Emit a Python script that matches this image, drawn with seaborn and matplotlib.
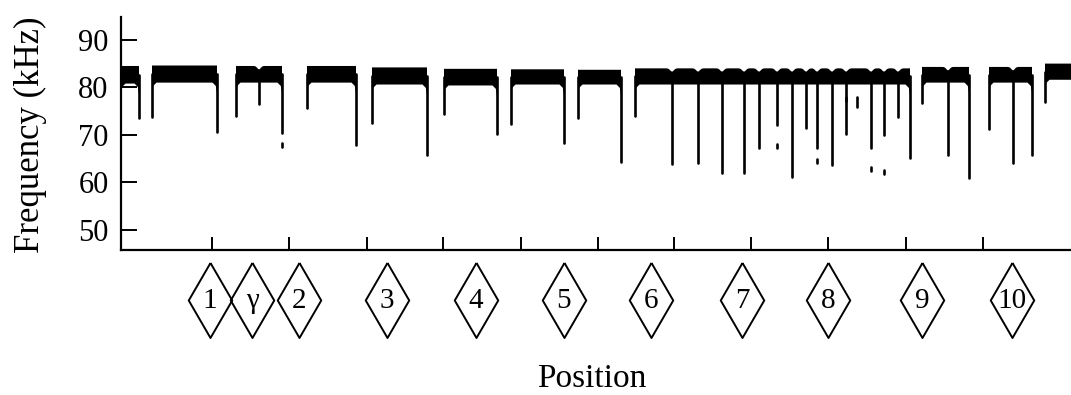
import numpy as np
import pandas as pd
import matplotlib
matplotlib.use("Agg")
import matplotlib.pyplot as plt
import seaborn as sns

# ---- data (position in arbitrary units along the flight path, frequency in kHz) ----
band_start = [0, 31, 115, 186, 251, 323, 390, 457, 514, 801, 868, 924]
band_end = [18, 96, 161, 235, 306, 376, 443, 500, 789, 848, 911, 960]
band_top = [84.5, 84.6, 84.5, 84.5, 84.2, 83.9, 83.8, 83.7, 84.0, 84.3, 84.3, 85.0]
band_bottom = [80.8, 81.0, 81.0, 81.0, 80.6, 80.4, 80.6, 80.6, 80.6, 81.0, 81.0, 81.6]

start_drop_x = [31, 115, 186, 251, 323, 390, 457, 514, 801, 868, 924]
start_drop_f = [73.7, 73.9, 75.7, 72.6, 74.3, 72.4, 73.5, 74.0, 76.7, 71.3, 77.0]

end_drop_x = [18, 96, 161, 235, 306, 376, 443, 500, 789, 848, 911]
end_drop_f = [73.5, 70.7, 70.5, 67.8, 65.7, 70.2, 68.4, 64.4, 65.2, 61.0, 65.7]

notch_x = [138, 551, 577, 601, 623, 638, 656, 671, 685, 696, 711, 725, 750, 763, 777, 827, 892]
notch_f = [76.6, 63.8, 64.2, 61.9, 61.9, 67.2, 72.0, 61.2, 71.4, 67.2, 63.6, 70.2, 67.2, 69.9, 73.7, 65.7, 64.0]

frag_x = [161, 656, 696, 725, 736, 750, 763]
frag_hi = [68.3, 68.0, 65.0, 77.9, 77.9, 63.2, 62.6]
frag_lo = [67.5, 67.2, 64.2, 77.1, 75.8, 62.4, 61.8]

tick_x = [91, 168, 246, 322, 400, 477, 553, 630, 707, 785, 862]
y_ticks = [50, 60, 70, 80, 90]

marker_x = [89, 131, 178, 266, 355, 443, 530, 621, 707, 801, 891]
marker_labels = ["1", "γ", "2", "3", "4", "5", "6", "7", "8", "9", "10"]

# ---- style ----
sns.set_theme(style="ticks")
plt.rcParams["font.family"] = ["Liberation Serif", "DejaVu Serif"]

W, H = 1071, 395
fig = plt.figure(figsize=(W / 100, H / 100), dpi=100)
fig.patch.set_facecolor("white")
ax = fig.add_axes([121 / W, 145 / H, 950 / W, 233 / H])
ax.set_facecolor("white")
ax.set_xlim(0, 950)
ax.set_ylim(45.8, 94.8)

# constant-frequency bands (with rounded joins into the sweeps, small dips at notches)
for s, e, t, b in zip(band_start, band_end, band_top, band_bottom):
    xs = np.linspace(s, e, 200)
    top = np.full_like(xs, t)
    for nx in notch_x:
        if s < nx < e:
            top -= 0.7 * np.exp(-((xs - nx) / 2.5) ** 2)
    lower_x = [e, e - 1.2, e - 4.5, s + 4.5, s + 1.2, s]
    lower_y = [b - 2.2, b - 0.7, b, b, b - 0.7, b - 2.2]
    ax.fill(list(xs) + lower_x, list(top) + lower_y, color="black", lw=0)

# frequency-modulated sweeps as line segments
def band_mid(x):
    for s, e, t, b in zip(band_start, band_end, band_top, band_bottom):
        if s - 1 <= x <= e + 1:
            return (t + b) / 2
    return 82.5

rows = []
uid = 0
for xs_, fs_ in [(start_drop_x, start_drop_f), (end_drop_x, end_drop_f), (notch_x, notch_f)]:
    for x, f in zip(xs_, fs_):
        rows.append({"x": x, "y": band_mid(x), "uid": uid})
        rows.append({"x": x, "y": f, "uid": uid})
        uid += 1
sweeps = pd.DataFrame(rows)
sns.lineplot(data=sweeps, x="x", y="y", units="uid", estimator=None, sort=False,
             color="black", linewidth=1.9, ax=ax, legend=False)

frows = []
for x, hi, lo in zip(frag_x, frag_hi, frag_lo):
    frows.append({"x": x, "y": hi, "uid": uid})
    frows.append({"x": x, "y": lo, "uid": uid})
    uid += 1
frags = pd.DataFrame(frows)
sns.lineplot(data=frags, x="x", y="y", units="uid", estimator=None, sort=False,
             color="black", linewidth=1.9, ax=ax, legend=False)

# axes styling
sns.despine(ax=ax)
for sp in ["left", "bottom"]:
    ax.spines[sp].set_linewidth(1.6)
    ax.spines[sp].set_color("black")
ax.set_xticks(tick_x)
ax.set_xticklabels([])
ax.set_yticks(y_ticks)
ax.set_yticklabels([str(v) for v in y_ticks])
ax.tick_params(axis="x", direction="in", length=9.5, width=1.4, color="black")
ax.tick_params(axis="y", direction="in", length=11.5, width=1.4, color="black",
               labelsize=22, pad=9, labelcolor="black")
ax.set_xlabel("")
ax.set_ylabel("")

# diamond position markers below the axis
diamond = [(0, 1), (0.58, 0), (0, -1), (-0.58, 0), (0, 1)]
ax.plot(marker_x, [35.3] * len(marker_x), linestyle="none", marker=diamond,
        markersize=54, markerfacecolor="none", markeredgecolor="black",
        markeredgewidth=1.4, clip_on=False)
for x, lab in zip(marker_x, marker_labels):
    ax.text(x, 35.0, lab, ha="center", va="center", fontsize=21, color="black",
            clip_on=False)

fig.text(30 / W, 1 - 135 / H, "Frequency (kHz)", rotation=90, ha="center",
         va="center", fontsize=25, color="black")
fig.text(592 / W, 1 - 379 / H, "Position", ha="center", va="center",
         fontsize=24, color="black")

fig.savefig("out.png", dpi=100, facecolor="white")
